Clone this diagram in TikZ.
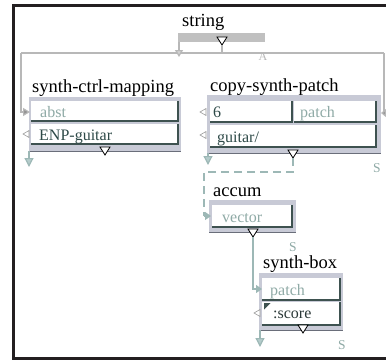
\documentclass[tikz,border=0pt]{standalone}
\usepackage{fontspec}
\setmainfont{Liberation Serif}
\usetikzlibrary{arrows.meta}
\definecolor{frame}{HTML}{231F20}
\definecolor{boxbg}{HTML}{C8CAD6}
\definecolor{boxedge}{HTML}{6A6E7A}
\definecolor{celldark}{HTML}{3E5250}
\definecolor{faint}{HTML}{8FAAA6}
\definecolor{darktxt}{HTML}{2E4A48}
\definecolor{wire}{HTML}{B8B8B8}
\definecolor{wirefill}{HTML}{D2D2D2}
\definecolor{twire}{HTML}{9DB8B6}
\definecolor{tfill}{HTML}{B4CCCB}
\definecolor{barfill}{HTML}{C0C0C0}
\tikzset{
  lbl/.style={font=\fontsize{18.5}{20}\selectfont, inner sep=0pt, anchor=base west, text=black},
  outerbox/.style={fill=boxbg, draw=none, anchor=north west, inner sep=0pt, outer sep=0pt},
  cellbox/.style={fill=white, draw=none, anchor=north west, inner sep=0pt, outer sep=0pt},
  ctxt/.style={font=\fontsize{16}{18}\selectfont, inner sep=0pt, anchor=base west},
  stxt/.style={font=\fontsize{13.5}{15}\selectfont, inner sep=0pt, text=faint},
  wireline/.style={draw=wire, line width=1.2pt},
  twireline/.style={draw=twire, line width=1.2pt},
  garrow/.style={-{Triangle[width=8pt,length=7pt,fill=wirefill]}},
  tarrow/.style={-{Triangle[width=9pt,length=9pt,fill=tfill]}},
  tarrowsm/.style={-{Triangle[width=8pt,length=6pt,fill=twire]}},
}
\newcommand\celledge[1]{\draw[celldark, line width=2.4pt] (#1.north east) -- (#1.south east) -- (#1.south west);}
\newcommand\boxedge[1]{\draw[boxedge, line width=1pt] (#1.south west) -- (#1.south east);}
\newcommand\outtri[3]{\draw[fill=white, draw=black, line width=0.8pt] (#2-5,#3) -- (#2+5,#3) -- (#2,#3+8) -- cycle; \coordinate (#1) at (#2,#3+8);}
\newcommand\intri[2]{\draw[fill=white, draw=gray!80, line width=0.6pt] (#1+3,#2-3.5) -- (#1+3,#2+3.5) -- (#1-3,#2) -- cycle;}
\begin{document}
\begin{tikzpicture}[x=1pt,y=-1pt]
\useasboundingbox (0,0) rectangle (386,360);
% frame
\draw[frame, line width=3pt] (390,5) -- (13.5,5) -- (13.5,358) -- (390,358);

% ---- string
\node[lbl] (lstring) at (182,26) {string};
\node[fill=barfill, anchor=north west, inner sep=0pt, minimum width=87pt, minimum height=9pt] (bar) at (178,33) {};
\outtri{strout}{222}{37}
\coordinate (busL) at (21,53);
\coordinate (busR) at (384,53);
\draw[wireline] (busL) -- (busR);
\draw[wireline] (strout) -- (strout |- busL);
\coordinate (barin) at (179,57);
\draw[wireline, garrow] (bar.north west |- bar.south) ++(1,0) coordinate (barl) -- (barin);
\node[font=\fontsize{12}{14}\selectfont, text=wire, inner sep=0pt] (amark) at (263,57) {A};

% ---- synth-ctrl-mapping
\node[lbl] (lscm) at (32,92) {synth-ctrl-mapping};
\node[outerbox, minimum width=152pt, minimum height=54pt] (scm) at (29,97) {};
\boxedge{scm}
\node[cellbox, minimum width=147pt, minimum height=20pt] (abst) at (31,101) {};
\celledge{abst}
\node[cellbox, minimum width=147pt, minimum height=20pt] (enp) at (31,124) {};
\celledge{enp}
\node[ctxt, text=faint] (tabst) at (40,117) {abst};
\node[ctxt, text=darktxt] (tenp) at (39,140) {ENP-guitar};
\outtri{scmout}{105}{147}
\intri{26}{134}
\coordinate (abstin) at (30,112);
\draw[wireline, -{Triangle[width=8pt,length=7pt,fill=wire!80!black]}] (busL) |- (abstin);
\draw[twireline, tarrow] (scm.south west) -- ++(0,16);

% ---- copy-synth-patch
\node[lbl] (lcsp) at (210,91) {copy-synth-patch};
\node[outerbox, minimum width=174pt, minimum height=58pt] (csp) at (207,95) {};
\boxedge{csp}
\node[cellbox, minimum width=82pt, minimum height=21pt] (six) at (210,101) {};
\celledge{six}
\node[cellbox, minimum width=82pt, minimum height=21pt] (patcha) at (294,101) {};
\celledge{patcha}
\node[cellbox, minimum width=166pt, minimum height=22pt] (guitar) at (210,125) {};
\celledge{guitar}
\node[ctxt, text=darktxt] (tsix) at (213,117) {6};
\node[ctxt, text=faint] (tpatcha) at (300,117) {patch};
\node[ctxt, text=darktxt] (tguitar) at (217,142) {guitar/};
\outtri{cspout}{293}{150}
\intri{203}{112}
\intri{203}{135}
\coordinate (cspin) at (381,113);
\draw[wireline, -{Triangle[width=8pt,length=5pt,fill=wire!80!black]}] (busR) |- (cspin);
\draw[twireline, tarrow] (csp.south west) ++(1,0) -- ++(0,12);
\node[stxt] (s1) at (377,168) {S};

% ---- accum
\node[lbl] (lacc) at (213,196) {accum};
\node[outerbox, minimum width=87pt, minimum height=32pt] (acc) at (209,200) {};
\boxedge{acc}
\node[cellbox, minimum width=80pt, minimum height=22pt] (vector) at (212,205) {};
\celledge{vector}
\node[ctxt, text=faint] (tvector) at (222,222) {vector};
\outtri{accout}{253}{229}
\coordinate (dk) at (204,172);
\coordinate (accin) at (211,216);
\draw[twireline, dash pattern=on 8pt off 5pt] (cspout) |- (dk) -- (dk |- accin);
\draw[twireline, tarrowsm] (dk |- accin) -- (accin);
\node[stxt] (s2) at (293,247) {S};

% ---- synth-box
\node[lbl] (lsb) at (263,268) {synth-box};
\node[outerbox, minimum width=84pt, minimum height=57pt] (sb) at (259,273) {};
\boxedge{sb}
\node[cellbox, minimum width=78pt, minimum height=22pt] (patchb) at (262,278) {};
\celledge{patchb}
\node[cellbox, minimum width=78pt, minimum height=23pt] (score) at (262,302) {};
\celledge{score}
\node[ctxt, text=faint] (tpatchb) at (270,295) {patch};
\node[ctxt, text=celldark!70!black] (tscore) at (273,318) {:score};
\fill[celldark] (264,303) -- (270.5,303) -- (264,309.5) -- cycle;
\outtri{sbout}{303}{325}
\intri{257}{313}
\coordinate (sbin) at (262,289);
\draw[twireline, tarrowsm] (accout) |- (sbin);
\draw[twireline, tarrow] (sb.south west) ++(1,0) -- ++(0,17);
\node[stxt] (s3) at (342,345) {S};
\end{tikzpicture}
\end{document}
